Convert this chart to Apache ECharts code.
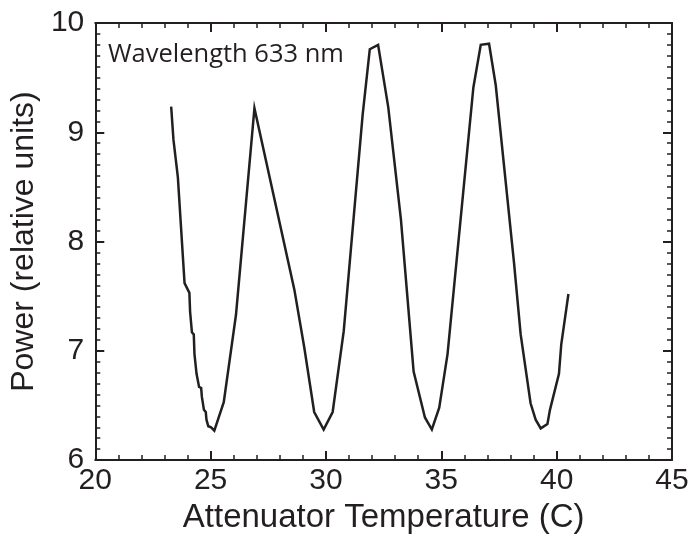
<!DOCTYPE html>
<html>
<head>
<meta charset="utf-8">
<script src="https://cdn.jsdelivr.net/npm/echarts@6/dist/echarts.min.js"></script>
<style>html,body{margin:0;padding:0;background:#fff;}#c{width:692px;height:539px;}</style>
</head>
<body>
<div id="c"></div>
<script>
const temperature = [23.29,23.39,23.58,23.87,24.08,24.11,24.19,24.19,24.27,24.30,24.39,24.47,24.50,24.59,24.62,24.68,24.71,24.79,24.82,24.90,25.02,25.16,25.57,26.10,26.90,28.63,29.06,29.49,29.90,30.29,30.77,31.59,31.90,32.26,32.70,33.25,33.80,34.29,34.59,34.91,35.27,36.39,36.71,37.07,37.36,38.15,38.44,38.87,39.09,39.31,39.60,39.71,40.10,40.20,40.51];
const power = [9.235,8.93,8.59,7.62,7.53,7.36,7.35,7.17,7.15,6.97,6.79,6.78,6.67,6.66,6.58,6.57,6.46,6.44,6.37,6.31,6.30,6.27,6.53,7.33,9.22,7.56,7.03,6.44,6.28,6.44,7.18,9.16,9.76,9.80,9.23,8.20,6.81,6.39,6.28,6.48,6.97,9.41,9.80,9.81,9.43,7.81,7.15,6.52,6.37,6.29,6.33,6.46,6.79,7.06,7.52];
const xTicks = [20,25,30,35,40,45];
const yTicks = [6,7,8,9,10];
const annotation = 'Wavelength 633 nm';

const ink = '#231f20';
const axisFont = 'Liberation Sans, Arial, sans-serif';
const pts = temperature.map((t,i)=>[t,power[i]]);

const baseX = {
  type:'value', min:xTicks[0], max:xTicks[xTicks.length-1], interval:5,
  axisLine:{show:true, onZero:false, lineStyle:{color:ink,width:2}},
  axisTick:{show:true, inside:true, length:9, lineStyle:{color:ink,width:2}},
  minorTick:{show:true, splitNumber:5, length:5, lineStyle:{color:ink,width:1.5}},
  splitLine:{show:false}
};
const baseY = {
  type:'value', min:yTicks[0], max:yTicks[yTicks.length-1], interval:1,
  axisLine:{show:true, onZero:false, lineStyle:{color:ink,width:2}},
  axisTick:{show:true, inside:true, length:9, lineStyle:{color:ink,width:2}},
  minorTick:{show:true, splitNumber:10, length:5, lineStyle:{color:ink,width:1.5}},
  splitLine:{show:false}
};

const chart = echarts.init(document.getElementById('c'), null, {renderer:'canvas'});
chart.setOption({
  animation:false,
  backgroundColor:'#fff',
  grid:{left:94, right:20, top:23, bottom:71, containLabel:false},
  xAxis:[
    Object.assign({}, baseX, {
      position:'bottom',
      name:'Attenuator Temperature (C)', nameLocation:'middle', nameGap:35,
      nameTextStyle:{fontFamily:axisFont, fontSize:33, color:ink},
      axisLabel:{show:true, margin:6, fontFamily:axisFont, fontSize:30, color:ink}
    }),
    Object.assign({}, baseX, {position:'top', axisLabel:{show:false}})
  ],
  yAxis:[
    Object.assign({}, baseY, {
      position:'left',
      name:'Power (relative units)', nameLocation:'middle', nameGap:50,
      nameTextStyle:{fontFamily:axisFont, fontSize:32, color:ink},
      axisLabel:{show:true, margin:11, fontFamily:axisFont, fontSize:30, color:ink}
    }),
    Object.assign({}, baseY, {position:'right', axisLabel:{show:false}})
  ],
  graphic:[{
    type:'text', left:108, top:42,
    style:{text:annotation, fontFamily:'Open Sans, Noto Sans, sans-serif', fontSize:25.5, fill:ink}
  }],
  series:[{
    type:'line', data:pts, xAxisIndex:0, yAxisIndex:0,
    showSymbol:false, symbol:'none',
    lineStyle:{color:ink, width:2.5, join:'miter'}
  }]
});
</script>
</body>
</html>
